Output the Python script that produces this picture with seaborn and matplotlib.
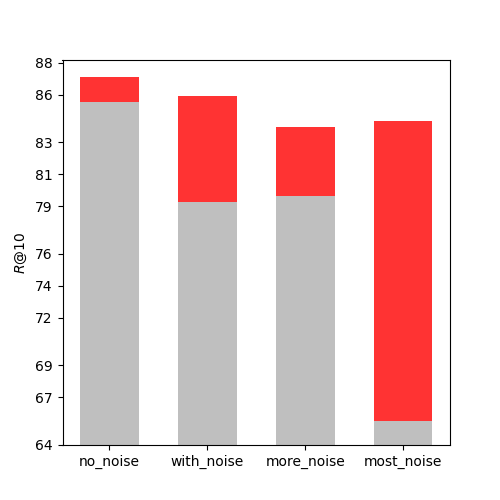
import matplotlib
matplotlib.use("Agg")
import matplotlib.pyplot as plt
import pandas as pd
import seaborn as sns

categories = ["no_noise", "with_noise", "more_noise", "most_noise"]
# R@10 of the baseline (grey) and with the improvement (red top)
base_r10 = [85.53, 79.27, 79.63, 65.51]
total_r10 = [87.10, 85.91, 83.96, 84.34]
y_ticks = [64, 67, 69, 72, 74, 76, 79, 81, 83, 86, 88]

df = pd.DataFrame({"setting": categories, "base": base_r10, "total": total_r10})

fig, ax = plt.subplots(figsize=(5, 5), dpi=100)

# red bar to the total, grey bar drawn over it up to the baseline
sns.barplot(data=df, x="setting", y="total", color="#ff3333", saturation=1,
            width=0.6, ax=ax)
sns.barplot(data=df, x="setting", y="base", color="#bfbfbf", saturation=1,
            width=0.6, ax=ax)

ax.set_xlim(-0.48, 3.48)
ax.set_ylim(64, 88.17)
ax.set_yticks(y_ticks)
ax.set_yticklabels([str(t) for t in y_ticks])
ax.set_xlabel("")
ax.set_ylabel("$R$@10")

fig.savefig("out.png", dpi=100)
